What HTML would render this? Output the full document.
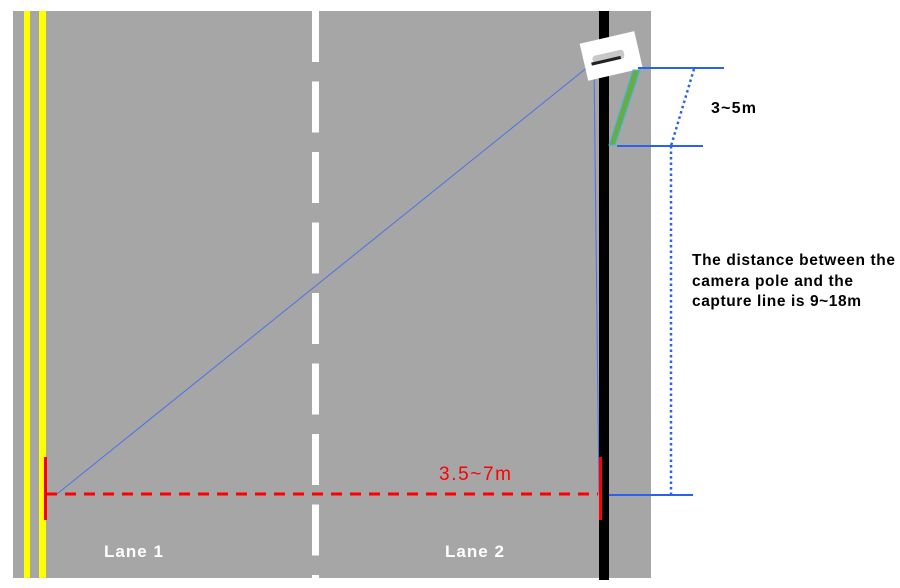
<!DOCTYPE html>
<html><head><style>
body{margin:0;width:900px;height:588px;background:#fff;overflow:hidden;font-family:"Liberation Sans",sans-serif}
</style></head><body>
<svg width="900" height="588" xmlns="http://www.w3.org/2000/svg" style="position:absolute;left:0;top:0">
<rect x="13" y="11" width="638" height="567" fill="#a6a6a6"/>
<rect x="24" y="11" width="6" height="567" fill="#ffff00"/>
<rect x="39" y="11" width="7" height="567" fill="#ffff00"/>
<line x1="315.5" y1="11" x2="315.5" y2="578" stroke="#fff" stroke-width="7" stroke-dasharray="51 19.5" stroke-dashoffset="0"/>
<rect x="599" y="11" width="10" height="569" fill="#000"/>
<line x1="594" y1="62" x2="57" y2="494" stroke="#4a72e8" stroke-width="1"/>
<line x1="594" y1="64" x2="599" y2="494" stroke="#4a72e8" stroke-width="1"/>
<line x1="46" y1="494" x2="598" y2="494" stroke="#f00" stroke-width="3" stroke-dasharray="11 8"/>
<rect x="44" y="457" width="3" height="63" fill="#f00"/>
<rect x="599" y="457" width="3" height="63" fill="#f00"/>
<g transform="rotate(-13 611 55)">
<rect x="583" y="37" width="56" height="38" fill="#fff"/>
<rect x="592" y="52" width="32" height="9" fill="#c8c8c8" rx="3"/>
<rect x="590" y="58" width="30" height="3" fill="#222"/>
</g>
<polygon points="633,70 640,70 615,145 609,145" fill="#6aac44" stroke="#3fb7e8" stroke-width="1"/>
<line x1="638" y1="68" x2="724" y2="68" stroke="#2a62f0" stroke-width="2"/>
<line x1="617" y1="146" x2="703" y2="146" stroke="#2a62f0" stroke-width="2"/>
<line x1="609" y1="495" x2="693" y2="495" stroke="#2a62f0" stroke-width="2"/>
<line x1="694" y1="69" x2="671" y2="146" stroke="#2a62f0" stroke-width="2.5" stroke-dasharray="2.5 3"/>
<line x1="671" y1="146" x2="671" y2="494" stroke="#2a62f0" stroke-width="2.5" stroke-dasharray="2.5 3"/>
<text x="711" y="113" font-size="16" font-weight="bold" fill="#000" textLength="45">3~5m</text>
<text x="692" y="265" font-size="15.5" font-weight="bold" fill="#000" textLength="203">The distance between the</text>
<text x="692" y="286" font-size="15.5" font-weight="bold" fill="#000" textLength="161">camera pole and the</text>
<text x="692" y="306" font-size="15.5" font-weight="bold" fill="#000" textLength="169">capture line is 9~18m</text>
<text x="439" y="480" font-size="19" fill="#f00" textLength="72">3.5~7m</text>
<text x="104" y="557" font-size="17" font-weight="bold" fill="#fff" textLength="59">Lane 1</text>
<text x="445" y="557" font-size="17" font-weight="bold" fill="#fff" textLength="59">Lane 2</text>
</svg>
</body></html>
